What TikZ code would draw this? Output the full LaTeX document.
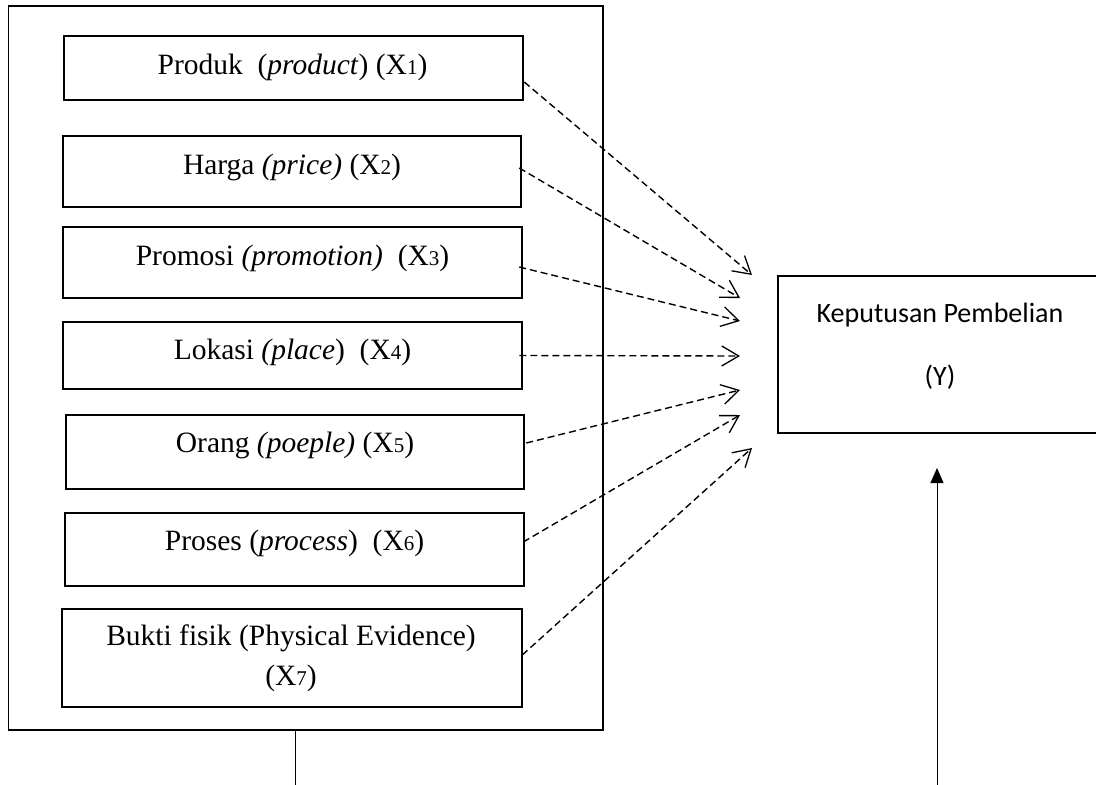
\documentclass[tikz,border=0pt]{standalone}
\usepackage{fontspec}
\setmainfont{Liberation Serif}
\newfontfamily\calibrifont{Carlito}
\usetikzlibrary{arrows.meta}
\newcommand\xsub[1]{{\fontsize{21}{21}\selectfont #1}}
\begin{document}
\begin{tikzpicture}[x=1pt,y=-1pt,
  inbox/.style={draw, line width=2.5pt, inner sep=0pt},
  intext/.style={inner sep=0pt, align=center, font=\fontsize{29.5}{40}\selectfont},
  outbox/.style={draw, line width=1.4pt, inner sep=0pt},
  ybox/.style={draw, line width=2.5pt, inner sep=0pt},
  ytext/.style={inner sep=0pt, align=center, font=\calibrifont\fontsize{28}{63}\selectfont},
  dasharrow/.style={line width=1.4pt, dash pattern=on 7pt off 4pt,
    -{Straight Barb[length=17pt,width=20pt,line width=1.3pt]}},
  solidline/.style={line width=1pt},
  solidarrow/.style={line width=1pt, -{Triangle[length=15pt,width=13pt]}}]
\useasboundingbox (0,0) rectangle (1096,785);
% outer frame
\node[outbox, minimum width=594.5pt, minimum height=724pt] (outer) at (305.75,368) {};
% factor boxes
\node[inbox, minimum width=459pt, minimum height=64pt] (b1) at (293.5,68) {};
\node[inbox, minimum width=458pt, minimum height=71pt] (b2) at (292,171.5) {};
\node[inbox, minimum width=459pt, minimum height=71pt] (b3) at (292.5,262.5) {};
\node[inbox, minimum width=459pt, minimum height=67pt] (b4) at (292.5,355.5) {};
\node[inbox, minimum width=458pt, minimum height=74pt] (b5) at (295,452) {};
\node[inbox, minimum width=459pt, minimum height=73pt] (b6) at (294.5,549.5) {};
\node[inbox, minimum width=460pt, minimum height=98pt] (b7) at (292,658) {};
% factor texts
\node[intext] (x1) at (292.5,67) {Produk\ \ (\textit{product}) (X\xsub{1})};
\node[intext] (x2) at (292,167) {Harga \textit{(price)} (X\xsub{2})};
\node[intext] (x3) at (292.5,258) {Promosi \textit{(promotion)}\ \ (X\xsub{3})};
\node[intext] (x4) at (292.5,352) {Lokasi \textit{(place})\ \ (X\xsub{4})};
\node[intext] (x5) at (295,445) {Orang \textit{(poeple)} (X\xsub{5})};
\node[intext] (x6) at (294.5,543) {Proses (\textit{process})\ \ (X\xsub{6})};
\node[intext] (x7) at (291,658) {Bukti fisik (Physical Evidence)\\(X\xsub{7})};
% decision box
\node[ybox, minimum width=332pt, minimum height=157pt] (y) at (944,354.5) {};
\node[ytext] (yt) at (940,346.5) {Keputusan Pembelian\\(Y)};
% arrow tips
\coordinate (t1) at (752,275);
\coordinate (t2) at (740,298);
\coordinate (t3) at (740,321);
\coordinate (t4) at (740,356);
\coordinate (t5) at (740,390);
\coordinate (t6) at (740,415);
\coordinate (t7) at (752,448);
\draw[dasharrow] ([yshift=-14pt]b1.east) -- (t1);
\draw[dasharrow] ([xshift=-3pt,yshift=3.5pt]b2.east) -- (t2);
\draw[dasharrow] ([xshift=-4pt,yshift=-4.5pt]b3.east) -- (t3);
\draw[dasharrow] ([xshift=-4pt]b4.east) -- (t4);
\draw[dasharrow] ([xshift=1pt,yshift=9pt]b5.east) -- (t5);
\draw[dasharrow] ([xshift=-2pt,yshift=7.5pt]b6.east) -- (t6);
\draw[dasharrow] ([xshift=-1pt,yshift=3pt]b7.east) -- (t7);
% bottom lines
\coordinate (l1) at (295,785);
\draw[solidline] (l1 |- outer.south) -- (l1);
\coordinate (r1) at (937,785);
\coordinate (r2) at (937,468);
\draw[solidarrow] (r1) -- (r2);
\end{tikzpicture}
\end{document}
